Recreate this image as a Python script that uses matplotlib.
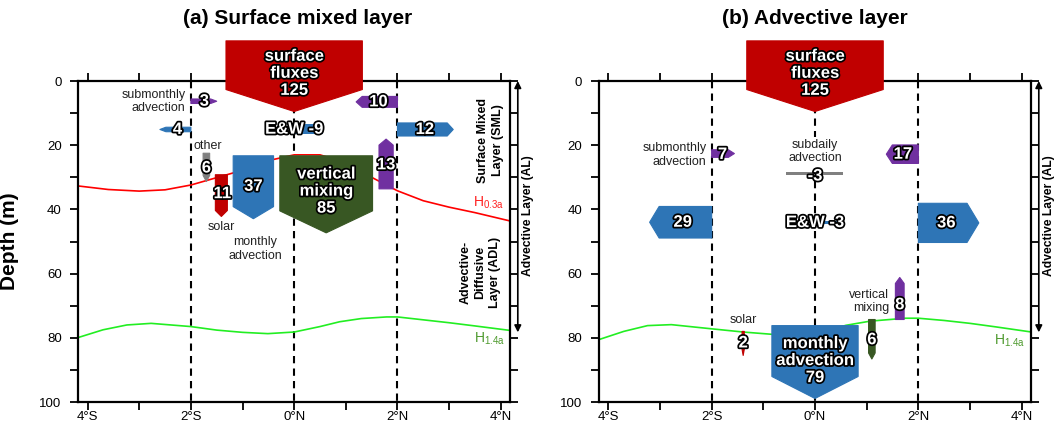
import matplotlib
matplotlib.use('Agg')
import matplotlib.pyplot as plt
import matplotlib.patheffects as pe
from matplotlib.patches import Polygon

plt.rcParams['font.family'] = ['Liberation Sans', 'DejaVu Sans']
plt.rcParams['mathtext.default'] = 'regular'

# axis ticks
lat_ticks = [-4, -2, 0, 2, 4]
lat_labels = ['4°S', '2°S', '0°N', '2°N', '4°N']
depth_ticks = [0, 20, 40, 60, 80, 100]

# (a) surface mixed layer heat budget terms
sml_surface = 125
sml_vmix = 85
sml_monthly = 37
sml_solar = 11
sml_other = 6
sml_vert_north = 13
sml_sub_south = 3
sml_adv_south = 4
sml_sub_north = 10
sml_adv_north = 12
sml_ew = -9

# (b) advective layer heat budget terms
al_surface = 125
al_monthly = 79
al_solar = 2
al_vmix = 6
al_vert_north = 8
al_sub_south = 7
al_sub_north = 17
al_subdaily = -3
al_adv_south = 29
al_adv_north = 36
al_ew = -3

# layer depth curves
h03_lat = [-4.18, -3.6, -3.0, -2.5, -2.0, -1.5, -1.0, -0.5, 0.0, 0.5, 1.0, 1.5, 2.0, 2.5, 3.0, 3.5, 4.18]
h03_depth = [32.7, 33.8, 34.3, 33.9, 32.4, 30.1, 27.8, 24.8, 23.0, 23.0, 25.5, 30.0, 34.2, 37.3, 39.3, 41.0, 43.6]
h14a_lat = [-4.18, -3.7, -3.24, -2.77, -2.0, -1.5, -1.0, -0.51, 0.0, 0.5, 0.88, 1.3, 1.79, 2.0, 2.5, 3.0, 3.5, 4.18]
h14a_depth = [79.9, 77.5, 76.0, 75.5, 76.5, 77.6, 78.3, 78.7, 78.2, 76.5, 75.0, 74.0, 73.5, 73.5, 74.4, 75.3, 76.3, 77.7]
h14b_lat = [-4.19, -3.7, -3.24, -2.78, -2.0, -1.39, -0.84, -0.3, 0.3, 0.6, 1.07, 1.75, 2.0, 2.5, 3.0, 3.5, 4.19]
h14b_depth = [80.6, 78.0, 76.2, 75.9, 77.2, 78.2, 78.9, 78.9, 77.5, 76.1, 74.8, 73.9, 73.9, 74.6, 75.5, 76.6, 78.2]

RED = '#C00000'
BLUE = '#2E75B6'
GREEN = '#385723'
PURPLE = '#7030A0'
GRAY = '#808080'

PX_LAT = 51.6   # pixels per degree
PX_M = 3.215    # pixels per metre
PX_VAL = 1.09   # pixels per W m-2

outline = [pe.withStroke(linewidth=2.5, foreground='black')]


def head_px(w):
    return min(max(0.3 * w, 6), 22)


def varrow(ax, lat, base, tip, val, color):
    w = abs(val) * PX_VAL
    hw = w / PX_LAT / 2
    h = head_px(w) / PX_M
    sh = tip - h if tip > base else tip + h
    pts = [(lat - hw, base), (lat + hw, base), (lat + hw, sh), (lat, tip), (lat - hw, sh)]
    ax.add_patch(Polygon(pts, closed=True, fc=color, ec=color, lw=0.8,
                         joinstyle='round', clip_on=False, zorder=3))


def harrow(ax, depth, base, tip, val, color, minpx=4.5):
    w = max(abs(val) * PX_VAL, minpx)
    t = w / PX_M / 2
    h = head_px(w) / PX_LAT
    sh = tip - h if tip > base else tip + h
    pts = [(base, depth - t), (sh, depth - t), (tip, depth), (sh, depth + t), (base, depth + t)]
    ax.add_patch(Polygon(pts, closed=True, fc=color, ec=color, lw=0.8,
                         joinstyle='round', clip_on=False, zorder=3))


def hbar(ax, depth, x0, x1, val, color):
    t = abs(val) * PX_VAL / PX_M / 2
    ax.fill_between([x0, x1], depth - t, depth + t, color=color, lw=0, zorder=3)


def num(ax, x, y, s, size=12):
    ax.text(x, y, s, ha='center', va='center', color='white', fontweight='bold',
            fontsize=size, linespacing=1.17, path_effects=outline, zorder=6, clip_on=False)


def label(ax, x, y, s, ha='center', **kw):
    ax.text(x, y, s, ha=ha, va='center', fontsize=9, color='#222222',
            linespacing=1.15, zorder=5, **kw)


fig = plt.figure(figsize=(10.54, 4.25), dpi=100)
axA = fig.add_axes([0.0743, 0.0541, 0.4096, 0.7553])
axB = fig.add_axes([0.5683, 0.0541, 0.4099, 0.7553])

for ax in (axA, axB):
    ax.set_xlim(-4.18, 4.18)
    ax.set_ylim(100, 0)
    ax.set_xticks(lat_ticks)
    ax.set_xticklabels(lat_labels)
    ax.set_xticks([-3, -1, 1, 3], minor=True)
    ax.set_yticks(depth_ticks)
    ax.set_yticks([10, 30, 50, 70, 90], minor=True)
    ax.tick_params(which='both', direction='out', length=6, width=1.3,
                   top=True, right=True, labelsize=9.5)
    ax.tick_params(axis='y', pad=6)
    ax.tick_params(axis='x', pad=0.5)
    for sp in ax.spines.values():
        sp.set_linewidth(1.6)
    for x in (-2, 0, 2):
        ax.plot([x, x], [0, 100], color='black', lw=1.5, ls=(0, (3.5, 2.5)), zorder=1)
    # advective layer arrow on the right
    ax.annotate('', xy=(1.018, 0), xytext=(1.018, 78.3),
                xycoords=ax.get_yaxis_transform(),
                arrowprops=dict(arrowstyle='<|-|>', color='black', lw=1.2,
                                mutation_scale=10, shrinkA=0, shrinkB=0))
    ax.text(1.041, 42, 'Advective Layer (AL)', transform=ax.get_yaxis_transform(),
            rotation=90, ha='center', va='center', fontsize=8.7, fontweight='bold')

axA.set_ylabel('Depth (m)', fontsize=15, fontweight='bold')
axA.yaxis.set_label_coords(-0.138, 0.5)

fig.text(0.282, 0.956, '(a) Surface mixed layer', ha='center', va='center',
         fontsize=15, fontweight='bold')
fig.text(0.773, 0.956, '(b) Advective layer', ha='center', va='center',
         fontsize=15, fontweight='bold')

# ---- panel (a)
axA.plot(h03_lat, h03_depth, color='#FF0000', lw=1.2, zorder=2)
axA.plot(h14a_lat, h14a_depth, color='#22EE22', lw=1.2, zorder=2)
axA.text(3.46, 38.0, 'H$_{0.3a}$', color='#FF2020', fontsize=10, ha='left', va='center')
axA.text(3.48, 80.2, 'H$_{1.4a}$', color='#4E9A2E', fontsize=10, ha='left', va='center')

varrow(axA, 0, -12.5, 9.5, sml_surface, RED)
num(axA, 0, -2.4, 'surface\nfluxes\n%d' % sml_surface)
varrow(axA, 0.62, 23.3, 47.3, sml_vmix, GREEN)
num(axA, 0.62, 34.3, 'vertical\nmixing\n%d' % sml_vmix)
varrow(axA, -0.79, 23.3, 42.9, sml_monthly, BLUE)
num(axA, -0.79, 32.8, str(sml_monthly))
label(axA, -0.75, 52.3, 'monthly\nadvection')
varrow(axA, -1.41, 29.2, 42.2, sml_solar, RED)
num(axA, -1.39, 35.1, str(sml_solar))
label(axA, -1.42, 45.5, 'solar')
varrow(axA, -1.70, 22.5, 31.3, sml_other, GRAY)
num(axA, -1.70, 27.1, str(sml_other))
label(axA, -1.67, 20.2, 'other')
varrow(axA, 1.78, 33.6, 18.1, sml_vert_north, PURPLE)
num(axA, 1.78, 26.1, str(sml_vert_north))
harrow(axA, 6.3, -2.0, -1.5, sml_sub_south, PURPLE)
num(axA, -1.74, 6.3, str(sml_sub_south))
label(axA, -2.1, 6.45, 'submonthly\nadvection', ha='right')
harrow(axA, 15.1, -2.0, -2.6, sml_adv_south, BLUE)
num(axA, -2.26, 15.1, str(sml_adv_south))
harrow(axA, 6.5, 2.0, 1.2, sml_sub_north, PURPLE)
num(axA, 1.63, 6.5, str(sml_sub_north))
harrow(axA, 15.1, 2.0, 3.08, sml_adv_north, BLUE)
num(axA, 2.53, 15.1, str(sml_adv_north))
hbar(axA, 15.0, 0.0, 0.55, sml_ew, BLUE)
num(axA, 0, 15.0, 'E&W %d' % sml_ew)

axA.text(3.8, 18.4, 'Surface Mixed\nLayer (SML)', rotation=90, ha='center', va='center',
         fontsize=9, fontweight='bold', linespacing=1.3)
axA.text(3.6, 59.6, 'Advective-\nDiffusive\nLayer (ADL)', rotation=90, ha='center',
         va='center', fontsize=9, fontweight='bold', linespacing=1.3)

# ---- panel (b)
axB.plot(h14b_lat, h14b_depth, color='#22EE22', lw=1.2, zorder=2)
axB.text(3.46, 81.0, 'H$_{1.4a}$', color='#4E9A2E', fontsize=10, ha='left', va='center')

varrow(axB, 0, -12.5, 9.5, al_surface, RED)
num(axB, 0, -2.4, 'surface\nfluxes\n%d' % al_surface)
varrow(axB, 0, 76.2, 98.9, al_monthly, BLUE)
num(axB, 0, 87.1, 'monthly\nadvection\n%d' % al_monthly)
varrow(axB, -1.39, 78.0, 85.5, al_solar, RED)
num(axB, -1.39, 81.6, str(al_solar))
label(axB, -1.39, 74.3, 'solar')
varrow(axB, 1.10, 74.3, 86.6, al_vmix, GREEN)
num(axB, 1.10, 80.6, str(al_vmix))
varrow(axB, 1.64, 74.3, 61.2, al_vert_north, PURPLE)
num(axB, 1.64, 69.7, str(al_vert_north))
label(axB, 1.44, 68.7, 'vertical\nmixing', ha='right')
harrow(axB, 22.6, -2.0, -1.56, al_sub_south, PURPLE)
num(axB, -1.79, 22.9, str(al_sub_south))
label(axB, -2.1, 23.1, 'submonthly\nadvection', ha='right')
harrow(axB, 22.8, 2.0, 1.38, al_sub_north, PURPLE)
num(axB, 1.70, 22.8, str(al_sub_north))
label(axB, 0, 22.0, 'subdaily\nadvection',
      bbox=dict(fc='white', ec='none', pad=1.5))
hbar(axB, 28.9, -0.56, 0.55, al_subdaily, GRAY)
num(axB, 0, 29.6, str(al_subdaily))
harrow(axB, 44.0, -2.0, -3.2, al_adv_south, BLUE)
num(axB, -2.56, 44.0, str(al_adv_south))
harrow(axB, 44.2, 2.0, 3.17, al_adv_north, BLUE)
num(axB, 2.54, 44.2, str(al_adv_north))
hbar(axB, 44.1, 0.0, 0.54, al_ew, BLUE)
num(axB, 0, 44.1, 'E&W %d' % al_ew)

fig.savefig('out.png', dpi=100)
